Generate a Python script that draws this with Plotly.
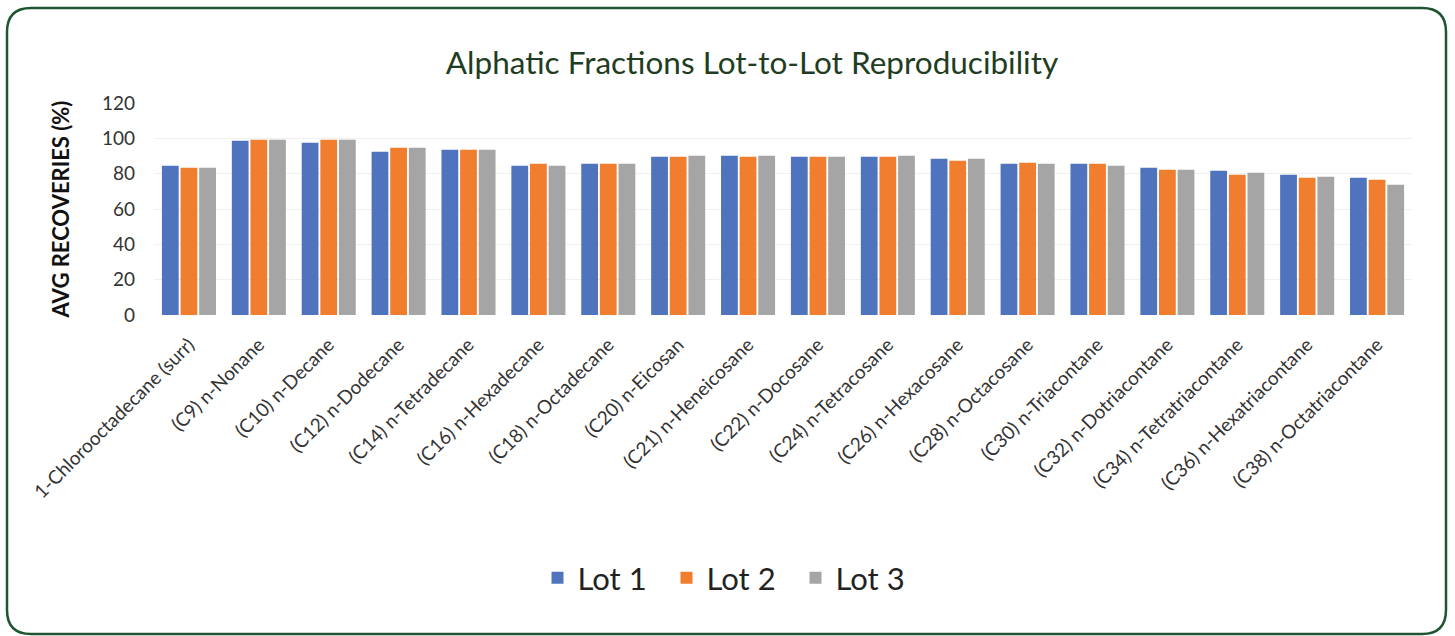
import plotly.graph_objects as go

categories = [
    "1-Chlorooctadecane (surr)", "(C9) n-Nonane", "(C10) n-Decane", "(C12) n-Dodecane",
    "(C14) n-Tetradecane", "(C16) n-Hexadecane", "(C18) n-Octadecane", "(C20) n-Eicosan",
    "(C21) n-Heneicosane", "(C22) n-Docosane", "(C24) n-Tetracosane", "(C26) n-Hexacosane",
    "(C28) n-Octacosane", "(C30) n-Triacontane", "(C32) n-Dotriacontane",
    "(C34) n-Tetratriacontane", "(C36) n-Hexatriacontane", "(C38) n-Octatriacontane",
]
lot1 = [84.5, 98.7, 97.5, 92.4, 93.6, 84.5, 85.6, 89.6, 90.2, 89.6, 89.6, 88.5, 85.6, 85.6, 83.4, 81.7, 79.4, 77.7]
lot2 = [83.4, 99.2, 99.2, 94.7, 93.6, 85.6, 85.6, 89.6, 89.6, 89.6, 89.6, 87.3, 86.2, 85.6, 82.2, 79.4, 77.7, 76.6]
lot3 = [83.4, 99.2, 99.2, 94.7, 93.6, 84.5, 85.6, 90.2, 90.2, 89.6, 90.2, 88.5, 85.6, 84.5, 82.2, 80.5, 78.3, 73.7]
series_names = ["Lot 1", "Lot 2", "Lot 3"]
series_colors = ["#4f74bd", "#f07e2e", "#a5a5a5"]
y_ticks = [0, 20, 40, 60, 80, 100, 120]

W, H = 1455, 636
L, R, T, B = 154, 43, 103, 321
PW, PH = W - L - R, H - T - B

def px(x):
    return (x - L) / PW

def py(y):
    return (H - B - y) / PH

FONT = "Lato"

fig = go.Figure()
for name, vals, col in zip(series_names, [lot1, lot2, lot3], series_colors):
    fig.add_trace(go.Bar(name=name, x=categories, y=vals, marker=dict(color=col, line=dict(width=0))))

# rounded frame
x0, y0, x1, y1, r = 7, 8, 1446, 634, 24
path = (
    f"M {px(x0 + r)},{py(y0)} L {px(x1 - r)},{py(y0)} "
    f"Q {px(x1)},{py(y0)} {px(x1)},{py(y0 + r)} "
    f"L {px(x1)},{py(y1 - r)} Q {px(x1)},{py(y1)} {px(x1 - r)},{py(y1)} "
    f"L {px(x0 + r)},{py(y1)} Q {px(x0)},{py(y1)} {px(x0)},{py(y1 - r)} "
    f"L {px(x0)},{py(y0 + r)} Q {px(x0)},{py(y0)} {px(x0 + r)},{py(y0)} Z"
)
fig.add_shape(type="path", path=path, xref="paper", yref="paper",
              line=dict(color="#1e5530", width=2.5), fillcolor="rgba(0,0,0,0)", layer="above")

fig.update_layout(
    width=W, height=H,
    margin=dict(l=L, r=R, t=T, b=B),
    paper_bgcolor="white", plot_bgcolor="white",
    barmode="group", bargap=0.2, bargroupgap=0.1,
    title=dict(text="Alphatic Fractions Lot-to-Lot Reproducibility",
               font=dict(family=FONT, size=31.5, color="#1f3d22"),
               xref="container", x=752 / W, xanchor="center", y=1 - 63 / H, yanchor="middle"),
    font=dict(family=FONT, color="#333333"),
    xaxis=dict(tickangle=-45, tickfont=dict(size=19, color="#333333"), showline=False,
               ticks="", showgrid=False, ticklabelstandoff=14),
    yaxis=dict(range=[0, 120], tickvals=y_ticks, tickfont=dict(size=19, color="#333333"),
               showgrid=True, gridcolor="#f0f0f0", gridwidth=1, zeroline=False, ticks="",
               ticklabelstandoff=18,
               title=dict(text="<b>AVG RECOVERIES (%)</b>", font=dict(size=22, color="#111111"),
                          standoff=26)),
    legend=dict(orientation="h", x=px(731), xanchor="center", y=py(578), yanchor="middle",
                font=dict(size=31, color="#222222"), traceorder="normal", itemwidth=30,
                entrywidth=84),
)

fig.write_html("out.html", config={"displayModeBar": False},
               post_script="document.body.style.margin='0';document.body.style.padding='0';")
